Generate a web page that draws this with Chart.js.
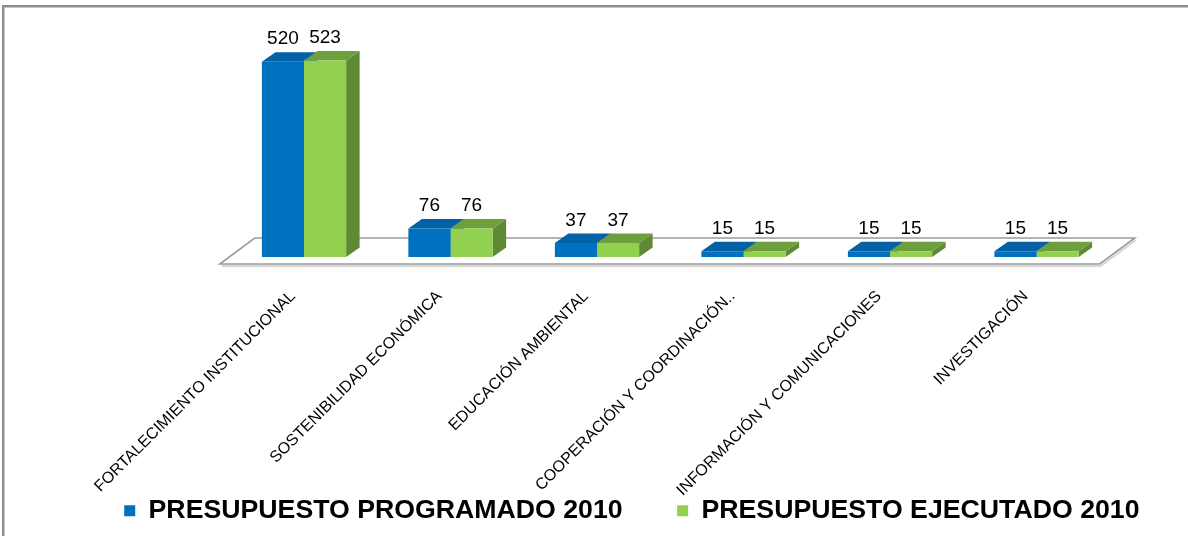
<!DOCTYPE html>
<html>
<head>
<meta charset="utf-8">
<script src="https://cdn.jsdelivr.net/npm/chart.js@4.4.0/dist/chart.umd.min.js"></script>
<style>
html,body{margin:0;padding:0;background:#ffffff;}
#wrap{position:relative;width:1188px;height:536px;}
</style>
</head>
<body>
<div id="wrap"><canvas id="c"></canvas></div>
<script>
const categories = [
  "FORTALECIMIENTO INSTITUCIONAL",
  "SOSTENIBILIDAD ECONÓMICA",
  "EDUCACIÓN AMBIENTAL",
  "COOPERACIÓN Y COORDINACIÓN..",
  "INFORMACIÓN Y COMUNICACIONES",
  "INVESTIGACIÓN"
];
const programado = [520, 76, 37, 15, 15, 15];
const ejecutado  = [523, 76, 37, 15, 15, 15];
const seriesNames = ["PRESUPUESTO PROGRAMADO 2010", "PRESUPUESTO EJECUTADO 2010"];

const FONT = '"Liberation Sans", Arial, sans-serif';
const DX = 13.5, DY = -9.5;
const faceColors = [
  {front: '#0070C0', top: '#0561A6', side: '#004F8A'},
  {front: '#92D050', top: '#6E9F3D', side: '#5E8A34'}
];

const LEGEND_FONT = 26.7, LEGEND_PAD = 54.5, PAD_BOTTOM = 2;
const LEGEND_H = LEGEND_FONT + LEGEND_PAD + 10;
const PLOT_BOTTOM = 257, PLOT_TOP = 31.6;
const X_AXIS_H = 536 - PAD_BOTTOM - LEGEND_H - PLOT_BOTTOM;

const decor = {
  id: 'decor',
  beforeDraw(chart) {
    const ctx = chart.ctx;
    ctx.save();
    ctx.strokeStyle = '#8f8f8f';
    ctx.lineWidth = 2.5;
    ctx.strokeRect(3.25, 6.25, 1400, 800);
    ctx.restore();
  },
  beforeDatasetsDraw(chart) {
    const ctx = chart.ctx, ca = chart.chartArea;
    ctx.save();
    const fy = ca.bottom + 7, by = ca.bottom - 19;
    ctx.beginPath();
    ctx.moveTo(ca.left - 11, fy);
    ctx.lineTo(ca.right - 10, fy);
    ctx.lineTo(ca.right + 25, by);
    ctx.lineTo(ca.left + 24, by);
    ctx.closePath();
    ctx.fillStyle = '#ffffff';
    ctx.fill();
    ctx.strokeStyle = '#d6d6d6';
    ctx.lineWidth = 2;
    ctx.beginPath();
    ctx.moveTo(ca.left - 9, fy + 2);
    ctx.lineTo(ca.right - 9, fy + 2);
    ctx.lineTo(ca.right + 26, by + 2);
    ctx.stroke();
    ctx.strokeStyle = '#9b9b9b';
    ctx.lineWidth = 1.6;
    ctx.beginPath();
    ctx.moveTo(ca.left - 11, fy);
    ctx.lineTo(ca.right - 10, fy);
    ctx.lineTo(ca.right + 25, by);
    ctx.lineTo(ca.left + 24, by);
    ctx.closePath();
    ctx.stroke();
    chart.data.datasets.forEach((ds, di) => {
      const meta = chart.getDatasetMeta(di);
      meta.data.forEach(bar => {
        const p = bar.getProps(['x', 'y', 'base', 'width'], true);
        const l = p.x - p.width / 2, r = p.x + p.width / 2;
        ctx.fillStyle = faceColors[di].side;
        ctx.beginPath();
        ctx.moveTo(r, p.y); ctx.lineTo(r + DX, p.y + DY);
        ctx.lineTo(r + DX, p.base + DY); ctx.lineTo(r, p.base);
        ctx.closePath(); ctx.fill();
        ctx.fillStyle = faceColors[di].top;
        ctx.beginPath();
        ctx.moveTo(l, p.y); ctx.lineTo(l + DX, p.y + DY);
        ctx.lineTo(r + DX, p.y + DY); ctx.lineTo(r, p.y);
        ctx.closePath(); ctx.fill();
      });
    });
    ctx.restore();
  },
  afterDatasetsDraw(chart) {
    const ctx = chart.ctx;
    ctx.save();
    ctx.fillStyle = '#000000';
    ctx.font = '19px ' + FONT;
    ctx.textAlign = 'center';
    ctx.textBaseline = 'alphabetic';
    chart.data.datasets.forEach((ds, di) => {
      const meta = chart.getDatasetMeta(di);
      meta.data.forEach((bar, i) => {
        const p = bar.getProps(['x', 'y'], true);
        ctx.fillText(String(ds.data[i]), p.x, p.y + DY - 8);
      });
    });
    ctx.restore();
  }
};

new Chart(document.getElementById('c'), {
  type: 'bar',
  data: {
    labels: categories,
    datasets: [
      {label: seriesNames[0], data: programado, backgroundColor: faceColors[0].front, borderWidth: 0,
       categoryPercentage: 0.575, barPercentage: 1.0},
      {label: seriesNames[1], data: ejecutado, backgroundColor: faceColors[1].front, borderWidth: 0,
       categoryPercentage: 0.575, barPercentage: 1.0}
    ]
  },
  options: {
    responsive: true,
    maintainAspectRatio: false,
    animation: false,
    layout: {padding: {top: PLOT_TOP, left: 0, right: -6, bottom: PAD_BOTTOM}},
    plugins: {
      tooltip: {enabled: false},
      legend: {
        position: 'bottom',
        align: 'end',
        labels: {
          boxWidth: 11, boxHeight: 11, padding: LEGEND_PAD, color: '#000000',
          font: {family: FONT, size: LEGEND_FONT, weight: 'bold'}
        }
      }
    },
    scales: {
      x: {
        grid: {display: false, drawTicks: false},
        border: {display: false},
        ticks: {
          autoSkip: false, minRotation: 45, maxRotation: 45, padding: 30, labelOffset: -11,
          color: '#000000', font: {family: FONT, size: 16}
        },
        afterFit(s) { s.height = X_AXIS_H; s._computeLabelArea = () => undefined; }
      },
      y: {
        min: 0, max: 600,
        grid: {display: false, drawTicks: false},
        border: {display: false},
        ticks: {display: false},
        afterFit(s) { s.width = 230.75; }
      },
      y2: {
        position: 'right', min: 0, max: 600,
        grid: {display: false, drawTicks: false},
        border: {display: false},
        ticks: {display: false},
        afterFit(s) { s.width = 84.25; }
      }
    }
  },
  plugins: [decor]
});
</script>
</body>
</html>
